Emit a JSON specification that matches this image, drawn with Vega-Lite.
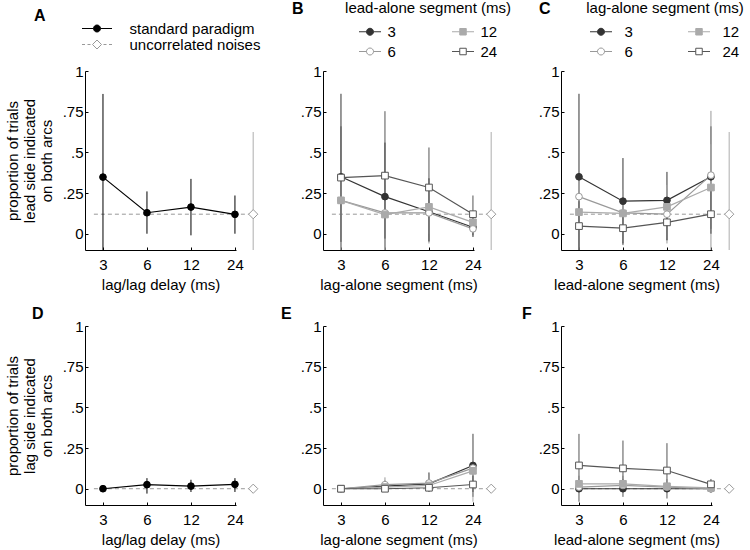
{
  "$schema": "https://vega.github.io/schema/vega-lite/v6.json",
  "padding": {"left": 5, "top": 1, "right": 5, "bottom": 5},
  "datasets": {
    "main": [
      {"panel": "A", "series": "standard paradigm", "x": 3, "y": 0.348, "lo": -0.1, "hi": 0.859},
      {"panel": "A", "series": "standard paradigm", "x": 6, "y": 0.129, "lo": 0, "hi": 0.26},
      {"panel": "A", "series": "standard paradigm", "x": 12, "y": 0.164, "lo": -0.01, "hi": 0.337},
      {"panel": "A", "series": "standard paradigm", "x": 24, "y": 0.119, "lo": 0, "hi": 0.235},

      {"panel": "B", "series": "3", "x": 3, "y": 0.35, "lo": -0.1, "hi": 0.86},
      {"panel": "B", "series": "3", "x": 6, "y": 0.228, "lo": -0.1, "hi": 0.56},
      {"panel": "B", "series": "3", "x": 12, "y": 0.135, "lo": -0.05, "hi": 0.34},
      {"panel": "B", "series": "3", "x": 24, "y": 0.04, "lo": -0.02, "hi": 0.12},
      {"panel": "B", "series": "6", "x": 3, "y": 0.205, "lo": -0.06, "hi": 0.66},
      {"panel": "B", "series": "6", "x": 6, "y": 0.128, "lo": -0.1, "hi": 0.3},
      {"panel": "B", "series": "6", "x": 12, "y": 0.128, "lo": -0.06, "hi": 0.34},
      {"panel": "B", "series": "6", "x": 24, "y": 0.03, "lo": -0.02, "hi": 0.1},
      {"panel": "B", "series": "12", "x": 3, "y": 0.205, "lo": -0.1, "hi": 0.45},
      {"panel": "B", "series": "12", "x": 6, "y": 0.118, "lo": -0.1, "hi": 0.27},
      {"panel": "B", "series": "12", "x": 12, "y": 0.165, "lo": 0, "hi": 0.33},
      {"panel": "B", "series": "12", "x": 24, "y": 0.07, "lo": 0, "hi": 0.14},
      {"panel": "B", "series": "24", "x": 3, "y": 0.345, "lo": -0.05, "hi": 0.66},
      {"panel": "B", "series": "24", "x": 6, "y": 0.357, "lo": -0.03, "hi": 0.753},
      {"panel": "B", "series": "24", "x": 12, "y": 0.284, "lo": -0.045, "hi": 0.53},
      {"panel": "B", "series": "24", "x": 24, "y": 0.12, "lo": -0.01, "hi": 0.235},

      {"panel": "C", "series": "3", "x": 3, "y": 0.35, "lo": -0.1, "hi": 0.86},
      {"panel": "C", "series": "3", "x": 6, "y": 0.2, "lo": -0.06, "hi": 0.465},
      {"panel": "C", "series": "3", "x": 12, "y": 0.205, "lo": -0.04, "hi": 0.38},
      {"panel": "C", "series": "3", "x": 24, "y": 0.35, "lo": 0.03, "hi": 0.66},
      {"panel": "C", "series": "6", "x": 3, "y": 0.228, "lo": -0.1, "hi": 0.56},
      {"panel": "C", "series": "6", "x": 6, "y": 0.128, "lo": -0.03, "hi": 0.26},
      {"panel": "C", "series": "6", "x": 12, "y": 0.12, "lo": -0.06, "hi": 0.28},
      {"panel": "C", "series": "6", "x": 24, "y": 0.36, "lo": -0.1, "hi": 0.755},
      {"panel": "C", "series": "12", "x": 3, "y": 0.133, "lo": -0.1, "hi": 0.35},
      {"panel": "C", "series": "12", "x": 6, "y": 0.125, "lo": -0.05, "hi": 0.27},
      {"panel": "C", "series": "12", "x": 12, "y": 0.165, "lo": -0.03, "hi": 0.3},
      {"panel": "C", "series": "12", "x": 24, "y": 0.284, "lo": 0, "hi": 0.55},
      {"panel": "C", "series": "24", "x": 3, "y": 0.047, "lo": -0.1, "hi": 0.2},
      {"panel": "C", "series": "24", "x": 6, "y": 0.034, "lo": -0.07, "hi": 0.15},
      {"panel": "C", "series": "24", "x": 12, "y": 0.07, "lo": -0.04, "hi": 0.2},
      {"panel": "C", "series": "24", "x": 24, "y": 0.12, "lo": 0, "hi": 0.3},

      {"panel": "D", "series": "standard paradigm", "x": 3, "y": 0, "lo": 0, "hi": 0},
      {"panel": "D", "series": "standard paradigm", "x": 6, "y": 0.025, "lo": -0.03, "hi": 0.065},
      {"panel": "D", "series": "standard paradigm", "x": 12, "y": 0.016, "lo": -0.02, "hi": 0.055},
      {"panel": "D", "series": "standard paradigm", "x": 24, "y": 0.027, "lo": -0.02, "hi": 0.065},

      {"panel": "E", "series": "3", "x": 3, "y": 0, "lo": 0, "hi": 0},
      {"panel": "E", "series": "3", "x": 6, "y": 0.016, "lo": 0, "hi": 0.05},
      {"panel": "E", "series": "3", "x": 12, "y": 0.03, "lo": -0.02, "hi": 0.1},
      {"panel": "E", "series": "3", "x": 24, "y": 0.143, "lo": -0.05, "hi": 0.337},
      {"panel": "E", "series": "6", "x": 3, "y": 0, "lo": 0, "hi": 0},
      {"panel": "E", "series": "6", "x": 6, "y": 0.025, "lo": -0.01, "hi": 0.07},
      {"panel": "E", "series": "6", "x": 12, "y": 0.035, "lo": -0.02, "hi": 0.09},
      {"panel": "E", "series": "6", "x": 24, "y": 0.127, "lo": -0.02, "hi": 0.296},
      {"panel": "E", "series": "12", "x": 3, "y": 0, "lo": 0, "hi": 0},
      {"panel": "E", "series": "12", "x": 6, "y": 0.01, "lo": 0, "hi": 0.04},
      {"panel": "E", "series": "12", "x": 12, "y": 0.02, "lo": 0, "hi": 0.06},
      {"panel": "E", "series": "12", "x": 24, "y": 0.11, "lo": -0.08, "hi": 0.337},
      {"panel": "E", "series": "24", "x": 3, "y": 0, "lo": 0, "hi": 0},
      {"panel": "E", "series": "24", "x": 6, "y": 0, "lo": 0, "hi": 0},
      {"panel": "E", "series": "24", "x": 12, "y": 0.006, "lo": 0, "hi": 0.02},
      {"panel": "E", "series": "24", "x": 24, "y": 0.026, "lo": -0.02, "hi": 0.08},

      {"panel": "F", "series": "3", "x": 3, "y": 0, "lo": 0, "hi": 0},
      {"panel": "F", "series": "3", "x": 6, "y": 0, "lo": 0, "hi": 0},
      {"panel": "F", "series": "3", "x": 12, "y": 0, "lo": 0, "hi": 0},
      {"panel": "F", "series": "3", "x": 24, "y": 0, "lo": 0, "hi": 0},
      {"panel": "F", "series": "6", "x": 3, "y": 0.01, "lo": -0.02, "hi": 0.05},
      {"panel": "F", "series": "6", "x": 6, "y": 0.02, "lo": -0.01, "hi": 0.06},
      {"panel": "F", "series": "6", "x": 12, "y": 0.01, "lo": -0.01, "hi": 0.04},
      {"panel": "F", "series": "6", "x": 24, "y": 0, "lo": 0, "hi": 0},
      {"panel": "F", "series": "12", "x": 3, "y": 0.03, "lo": -0.02, "hi": 0.08},
      {"panel": "F", "series": "12", "x": 6, "y": 0.03, "lo": -0.01, "hi": 0.08},
      {"panel": "F", "series": "12", "x": 12, "y": 0.015, "lo": -0.02, "hi": 0.06},
      {"panel": "F", "series": "12", "x": 24, "y": 0.005, "lo": 0, "hi": 0.02},
      {"panel": "F", "series": "24", "x": 3, "y": 0.143, "lo": -0.08, "hi": 0.337},
      {"panel": "F", "series": "24", "x": 6, "y": 0.125, "lo": -0.05, "hi": 0.296},
      {"panel": "F", "series": "24", "x": 12, "y": 0.112, "lo": -0.06, "hi": 0.28},
      {"panel": "F", "series": "24", "x": 24, "y": 0.027, "lo": -0.01, "hi": 0.06}
    ],
    "noise": [
      {"panel": "A", "series": "uncorrelated noises", "x": 32, "y": 0.12, "lo": -0.1, "hi": 0.625},
      {"panel": "B", "series": "uncorrelated noises", "x": 32, "y": 0.12, "lo": -0.1, "hi": 0.625},
      {"panel": "C", "series": "uncorrelated noises", "x": 32, "y": 0.12, "lo": -0.1, "hi": 0.625},
      {"panel": "D", "series": "uncorrelated noises", "x": 32, "y": 0},
      {"panel": "E", "series": "uncorrelated noises", "x": 32, "y": 0},
      {"panel": "F", "series": "uncorrelated noises", "x": 32, "y": 0}
    ]
  },
  "config": {
    "font": "Liberation Sans",
    "view": {"stroke": null},
    "axis": {
      "grid": false, "domainColor": "#000", "tickColor": "#000", "labelColor": "#000", "titleColor": "#000",
      "labelFontSize": 15, "titleFontSize": 15, "titleFontWeight": "normal", "tickSize": -3,
      "labelFont": "Liberation Sans", "titleFont": "Liberation Sans"
    },
    "axisX": {"labelPadding": 10, "titlePadding": 5},
    "axisY": {"labelPadding": 5, "titlePadding": 8, "titleLineHeight": 17},
    "legend": {
      "labelFont": "Liberation Sans", "titleFont": "Liberation Sans", "labelFontSize": 15, "titleFontSize": 15,
      "titleFontWeight": "normal", "labelColor": "#000", "titleColor": "#000", "symbolStrokeWidth": 1, "padding": 0, "labelLimit": 300
    },
    "title": {"fontSize": 16, "fontWeight": "bold", "anchor": "start", "frame": "group", "color": "#000", "font": "Liberation Sans"}
  },
  "columns": 3,
  "spacing": {"row": 76, "column": 87},
  "bounds": "flush",
  "resolve": {"scale": {"stroke": "independent", "fill": "independent", "shape": "independent"}},
  "concat": [
    {
      "width": 151, "height": 179,
      "title": {"text": "A", "dx": -51, "dy": 7},
      "encoding": {
        "x": {"field": "x", "type": "quantitative", "scale": {"type": "log", "base": 2, "domain": [2.26, 24.4], "nice": false}, "axis": {"values": [3, 6, 12, 24], "format": "d", "title": "lag/lag delay (ms)"}},
        "y": {"field": "y", "type": "quantitative", "scale": {"domain": [-0.1, 1], "nice": false, "zero": false}, "axis": {"values": [0, 0.25, 0.5, 0.75, 1], "labelExpr": "datum.value == 0 ? '0' : datum.value == 1 ? '1' : replace(format(datum.value, '.2~f'), '0.', '.')", "title": ["proportion of trials", "lead side indicated", "on both arcs"]}}
      },
      "layer": [
        {"data": {"name": "noise"}, "transform": [{"filter": "datum.panel == 'A'"}], "mark": {"type": "rule", "stroke": "#999", "strokeWidth": 1, "strokeDash": [4, 3]}, "encoding": {"x": {"datum": 2.6, "type": "quantitative"}, "x2": {"datum": 32}}},
        {"data": {"name": "noise"}, "transform": [{"filter": "datum.panel == 'A'"}], "mark": {"type": "rule", "stroke": "#bbb", "strokeWidth": 1.2}, "encoding": {"y": {"field": "lo", "type": "quantitative"}, "y2": {"field": "hi"}}},
        {"data": {"name": "main"}, "transform": [{"filter": "datum.panel == 'A'"}], "mark": {"type": "rule", "stroke": "#000", "strokeWidth": 1}, "encoding": {"y": {"field": "lo", "type": "quantitative"}, "y2": {"field": "hi"}}},
        {"data": {"name": "main"}, "transform": [{"filter": "datum.panel == 'A'"}], "mark": {"type": "line", "stroke": "#000", "strokeWidth": 1.2}, "encoding": {}},
        {"data": {"name": "main"}, "transform": [{"filter": "false"}], "mark": {"type": "point", "filled": true, "size": 45, "strokeWidth": 1, "opacity": 1},
          "encoding": {
            "stroke": {"field": "series", "type": "nominal", "scale": {"domain": ["standard paradigm", "uncorrelated noises"], "range": ["#000", "#999"]},
              "legend": {"title": null, "orient": "none", "legendX": -3, "legendY": -50, "symbolSize": 100, "symbolOffset": 7.5, "labelOffset": 25, "rowPadding": 0}},
            "fill": {"field": "series", "type": "nominal", "scale": {"domain": ["standard paradigm", "uncorrelated noises"], "range": ["#000", "#fff"]}},
            "shape": {"field": "series", "type": "nominal", "scale": {"domain": ["standard paradigm", "uncorrelated noises"], "range": ["M-3,0H-0.7M0.7,0H3M-0.7,0A0.7,0.7,0,1,1,0.7,0A0.7,0.7,0,1,1,-0.7,0Z", "M-3,0H-2.4M-1.9,0H-1.3M1.3,0H1.9M2.4,0H3M0,-0.9L0.9,0L0,0.9L-0.9,0Z"]}}
          }},
        {"data": {"name": "main"}, "transform": [{"filter": "datum.panel == 'A'"}], "mark": {"type": "point", "shape": "circle", "filled": true, "size": 45, "strokeWidth": 1, "opacity": 1},
          "encoding": {
            "stroke": {"field": "series", "type": "nominal"},
            "fill": {"field": "series", "type": "nominal"}
          }},
        {"data": {"name": "noise"}, "transform": [{"filter": "datum.panel == 'A'"}], "mark": {"type": "point", "shape": "diamond", "filled": true, "size": 85, "strokeWidth": 1, "opacity": 1},
          "encoding": {
            "stroke": {"field": "series", "type": "nominal"},
            "fill": {"field": "series", "type": "nominal"}
          }}
      ]
    },
    {
      "width": 151, "height": 179,
      "title": {"text": "B", "dx": -31, "dy": 20},
      "encoding": {
        "x": {"field": "x", "type": "quantitative", "scale": {"type": "log", "base": 2, "domain": [2.26, 24.4], "nice": false}, "axis": {"values": [3, 6, 12, 24], "format": "d", "title": "lag-alone segment (ms)"}},
        "y": {"field": "y", "type": "quantitative", "scale": {"domain": [-0.1, 1], "nice": false, "zero": false}, "axis": {"values": [0, 0.25, 0.5, 0.75, 1], "labelExpr": "datum.value == 0 ? '0' : datum.value == 1 ? '1' : replace(format(datum.value, '.2~f'), '0.', '.')", "title": null}}
      },
      "layer": [
        {"data": {"name": "noise"}, "transform": [{"filter": "datum.panel == 'B'"}], "mark": {"type": "rule", "stroke": "#999", "strokeWidth": 1, "strokeDash": [4, 3]}, "encoding": {"x": {"datum": 2.6, "type": "quantitative"}, "x2": {"datum": 32}}},
        {"data": {"name": "noise"}, "transform": [{"filter": "datum.panel == 'B'"}], "mark": {"type": "rule", "stroke": "#bbb", "strokeWidth": 1.2}, "encoding": {"y": {"field": "lo", "type": "quantitative"}, "y2": {"field": "hi"}}},
        {"data": {"name": "main"}, "transform": [{"filter": "datum.panel == 'B'"}], "mark": {"type": "rule", "strokeWidth": 1}, "encoding": {"y": {"field": "lo", "type": "quantitative"}, "y2": {"field": "hi"}, "color": {"field": "series", "type": "nominal", "scale": {"domain": ["3", "6", "12", "24"], "range": ["#333", "#999", "#aaa", "#555"]}, "legend": null}}},
        {"data": {"name": "main"}, "transform": [{"filter": "datum.panel == 'B'"}], "mark": {"type": "line", "strokeWidth": 1.2}, "encoding": {"color": {"field": "series", "type": "nominal", "scale": {"domain": ["3", "6", "12", "24"], "range": ["#333", "#999", "#aaa", "#555"]}, "legend": null}}},
        {"data": {"name": "main"}, "transform": [{"filter": "false"}], "mark": {"type": "point", "filled": true, "size": 45, "strokeWidth": 1, "opacity": 1},
          "encoding": {
            "stroke": {"field": "series", "type": "nominal", "scale": {"domain": ["3", "6", "12", "24"], "range": ["#333", "#999", "#aaa", "#555"]},
              "legend": {"title": "lead-alone segment (ms)", "titleAnchor": "middle", "orient": "none", "legendX": 22, "legendY": -70, "columns": 2, "columnPadding": 54, "rowPadding": 4, "titlePadding": 8, "symbolSize": 100, "symbolOffset": 3.5, "labelOffset": 10}},
            "fill": {"field": "series", "type": "nominal", "scale": {"domain": ["3", "6", "12", "24"], "range": ["#333", "#fff", "#aaa", "#fff"]}},
            "shape": {"field": "series", "type": "nominal", "scale": {"domain": ["3", "6", "12", "24"], "range": ["M-2.2,0H-0.7M0.7,0H2.2M-0.7,0A0.7,0.7,0,1,1,0.7,0A0.7,0.7,0,1,1,-0.7,0Z", "M-2.2,0H-0.7M0.7,0H2.2M-0.7,0A0.7,0.7,0,1,1,0.7,0A0.7,0.7,0,1,1,-0.7,0Z", "M-2.2,0H-0.65M0.65,0H2.2M-0.65,-0.65H0.65V0.65H-0.65Z", "M-2.2,0H-0.65M0.65,0H2.2M-0.65,-0.65H0.65V0.65H-0.65Z"]}}
          }},
        {"data": {"name": "main"}, "transform": [{"filter": "datum.panel == 'B' && (datum.series == '3' || datum.series == '6')"}], "mark": {"type": "point", "shape": "circle", "filled": true, "size": 45, "strokeWidth": 1, "opacity": 1},
          "encoding": {
            "stroke": {"field": "series", "type": "nominal"},
            "fill": {"field": "series", "type": "nominal"}
          }},
        {"data": {"name": "main"}, "transform": [{"filter": "datum.panel == 'B' && (datum.series == '12' || datum.series == '24')"}], "mark": {"type": "point", "shape": "square", "filled": true, "size": 45, "strokeWidth": 1, "opacity": 1},
          "encoding": {
            "stroke": {"field": "series", "type": "nominal"},
            "fill": {"field": "series", "type": "nominal"}
          }},
        {"data": {"name": "noise"}, "transform": [{"filter": "datum.panel == 'B'"}], "mark": {"type": "point", "shape": "diamond", "filled": true, "fill": "#fff", "stroke": "#999", "size": 85, "strokeWidth": 1, "opacity": 1}, "encoding": {}}
      ]
    },
    {
      "width": 151, "height": 179,
      "title": {"text": "C", "dx": -22, "dy": 20},
      "encoding": {
        "x": {"field": "x", "type": "quantitative", "scale": {"type": "log", "base": 2, "domain": [2.26, 24.4], "nice": false}, "axis": {"values": [3, 6, 12, 24], "format": "d", "title": "lead-alone segment (ms)"}},
        "y": {"field": "y", "type": "quantitative", "scale": {"domain": [-0.1, 1], "nice": false, "zero": false}, "axis": {"values": [0, 0.25, 0.5, 0.75, 1], "labelExpr": "datum.value == 0 ? '0' : datum.value == 1 ? '1' : replace(format(datum.value, '.2~f'), '0.', '.')", "title": null}}
      },
      "layer": [
        {"data": {"name": "noise"}, "transform": [{"filter": "datum.panel == 'C'"}], "mark": {"type": "rule", "stroke": "#999", "strokeWidth": 1, "strokeDash": [4, 3]}, "encoding": {"x": {"datum": 2.6, "type": "quantitative"}, "x2": {"datum": 32}}},
        {"data": {"name": "noise"}, "transform": [{"filter": "datum.panel == 'C'"}], "mark": {"type": "rule", "stroke": "#bbb", "strokeWidth": 1.2}, "encoding": {"y": {"field": "lo", "type": "quantitative"}, "y2": {"field": "hi"}}},
        {"data": {"name": "main"}, "transform": [{"filter": "datum.panel == 'C'"}], "mark": {"type": "rule", "strokeWidth": 1}, "encoding": {"y": {"field": "lo", "type": "quantitative"}, "y2": {"field": "hi"}, "color": {"field": "series", "type": "nominal", "scale": {"domain": ["3", "6", "12", "24"], "range": ["#333", "#999", "#aaa", "#555"]}, "legend": null}}},
        {"data": {"name": "main"}, "transform": [{"filter": "datum.panel == 'C'"}], "mark": {"type": "line", "strokeWidth": 1.2}, "encoding": {"color": {"field": "series", "type": "nominal", "scale": {"domain": ["3", "6", "12", "24"], "range": ["#333", "#999", "#aaa", "#555"]}, "legend": null}}},
        {"data": {"name": "main"}, "transform": [{"filter": "false"}], "mark": {"type": "point", "filled": true, "size": 45, "strokeWidth": 1, "opacity": 1},
          "encoding": {
            "stroke": {"field": "series", "type": "nominal", "scale": {"domain": ["3", "6", "12", "24"], "range": ["#333", "#999", "#aaa", "#555"]},
              "legend": {"title": "lag-alone segment (ms)", "titleAnchor": "middle", "orient": "none", "legendX": 25, "legendY": -70, "columns": 2, "columnPadding": 53, "rowPadding": 4, "titlePadding": 8, "symbolSize": 100, "symbolOffset": 3.5, "labelOffset": 16}},
            "fill": {"field": "series", "type": "nominal", "scale": {"domain": ["3", "6", "12", "24"], "range": ["#333", "#fff", "#aaa", "#fff"]}},
            "shape": {"field": "series", "type": "nominal", "scale": {"domain": ["3", "6", "12", "24"], "range": ["M-2.2,0H-0.7M0.7,0H2.2M-0.7,0A0.7,0.7,0,1,1,0.7,0A0.7,0.7,0,1,1,-0.7,0Z", "M-2.2,0H-0.7M0.7,0H2.2M-0.7,0A0.7,0.7,0,1,1,0.7,0A0.7,0.7,0,1,1,-0.7,0Z", "M-2.2,0H-0.65M0.65,0H2.2M-0.65,-0.65H0.65V0.65H-0.65Z", "M-2.2,0H-0.65M0.65,0H2.2M-0.65,-0.65H0.65V0.65H-0.65Z"]}}
          }},
        {"data": {"name": "main"}, "transform": [{"filter": "datum.panel == 'C' && (datum.series == '3' || datum.series == '6')"}], "mark": {"type": "point", "shape": "circle", "filled": true, "size": 45, "strokeWidth": 1, "opacity": 1},
          "encoding": {
            "stroke": {"field": "series", "type": "nominal"},
            "fill": {"field": "series", "type": "nominal"}
          }},
        {"data": {"name": "main"}, "transform": [{"filter": "datum.panel == 'C' && (datum.series == '12' || datum.series == '24')"}], "mark": {"type": "point", "shape": "square", "filled": true, "size": 45, "strokeWidth": 1, "opacity": 1},
          "encoding": {
            "stroke": {"field": "series", "type": "nominal"},
            "fill": {"field": "series", "type": "nominal"}
          }},
        {"data": {"name": "noise"}, "transform": [{"filter": "datum.panel == 'C'"}], "mark": {"type": "point", "shape": "diamond", "filled": true, "fill": "#fff", "stroke": "#999", "size": 85, "strokeWidth": 1, "opacity": 1}, "encoding": {}}
      ]
    },
    {
      "width": 151, "height": 179,
      "title": {"text": "D", "dx": -53, "dy": 7},
      "encoding": {
        "x": {"field": "x", "type": "quantitative", "scale": {"type": "log", "base": 2, "domain": [2.26, 24.4], "nice": false}, "axis": {"values": [3, 6, 12, 24], "format": "d", "title": "lag/lag delay (ms)"}},
        "y": {"field": "y", "type": "quantitative", "scale": {"domain": [-0.1, 1], "nice": false, "zero": false}, "axis": {"values": [0, 0.25, 0.5, 0.75, 1], "labelExpr": "datum.value == 0 ? '0' : datum.value == 1 ? '1' : replace(format(datum.value, '.2~f'), '0.', '.')", "title": ["proportion of trials", "lag side indicated", "on both arcs"]}}
      },
      "layer": [
        {"data": {"name": "noise"}, "transform": [{"filter": "datum.panel == 'D'"}], "mark": {"type": "rule", "stroke": "#999", "strokeWidth": 1, "strokeDash": [4, 3]}, "encoding": {"x": {"datum": 2.6, "type": "quantitative"}, "x2": {"datum": 32}}},
        {"data": {"name": "main"}, "transform": [{"filter": "datum.panel == 'D'"}], "mark": {"type": "rule", "stroke": "#000", "strokeWidth": 1}, "encoding": {"y": {"field": "lo", "type": "quantitative"}, "y2": {"field": "hi"}}},
        {"data": {"name": "main"}, "transform": [{"filter": "datum.panel == 'D'"}], "mark": {"type": "line", "stroke": "#000", "strokeWidth": 1.2}, "encoding": {}},
        {"data": {"name": "main"}, "transform": [{"filter": "datum.panel == 'D'"}], "mark": {"type": "point", "shape": "circle", "filled": true, "fill": "#000", "stroke": "#000", "size": 45, "strokeWidth": 1, "opacity": 1}, "encoding": {}},
        {"data": {"name": "noise"}, "transform": [{"filter": "datum.panel == 'D'"}], "mark": {"type": "point", "shape": "diamond", "filled": true, "fill": "#fff", "stroke": "#999", "size": 85, "strokeWidth": 1, "opacity": 1}, "encoding": {}}
      ]
    },
    {
      "width": 151, "height": 179,
      "title": {"text": "E", "dx": -42, "dy": 7},
      "encoding": {
        "x": {"field": "x", "type": "quantitative", "scale": {"type": "log", "base": 2, "domain": [2.26, 24.4], "nice": false}, "axis": {"values": [3, 6, 12, 24], "format": "d", "title": "lag-alone segment (ms)"}},
        "y": {"field": "y", "type": "quantitative", "scale": {"domain": [-0.1, 1], "nice": false, "zero": false}, "axis": {"values": [0, 0.25, 0.5, 0.75, 1], "labelExpr": "datum.value == 0 ? '0' : datum.value == 1 ? '1' : replace(format(datum.value, '.2~f'), '0.', '.')", "title": null}}
      },
      "layer": [
        {"data": {"name": "noise"}, "transform": [{"filter": "datum.panel == 'E'"}], "mark": {"type": "rule", "stroke": "#999", "strokeWidth": 1, "strokeDash": [4, 3]}, "encoding": {"x": {"datum": 2.6, "type": "quantitative"}, "x2": {"datum": 32}}},
        {"data": {"name": "main"}, "transform": [{"filter": "datum.panel == 'E'"}], "mark": {"type": "rule", "strokeWidth": 1}, "encoding": {"y": {"field": "lo", "type": "quantitative"}, "y2": {"field": "hi"}, "color": {"field": "series", "type": "nominal", "scale": {"domain": ["3", "6", "12", "24"], "range": ["#333", "#999", "#aaa", "#555"]}, "legend": null}}},
        {"data": {"name": "main"}, "transform": [{"filter": "datum.panel == 'E'"}], "mark": {"type": "line", "strokeWidth": 1.2}, "encoding": {"color": {"field": "series", "type": "nominal", "scale": {"domain": ["3", "6", "12", "24"], "range": ["#333", "#999", "#aaa", "#555"]}, "legend": null}}},
        {"data": {"name": "main"}, "transform": [{"filter": "datum.panel == 'E'"}], "mark": {"type": "point", "filled": true, "size": 45, "strokeWidth": 1, "opacity": 1},
          "encoding": {
            "stroke": {"field": "series", "type": "nominal", "scale": {"domain": ["3", "6", "12", "24"], "range": ["#333", "#999", "#aaa", "#555"]}, "legend": null},
            "fill": {"field": "series", "type": "nominal", "scale": {"domain": ["3", "6", "12", "24"], "range": ["#333", "#fff", "#aaa", "#fff"]}, "legend": null},
            "shape": {"field": "series", "type": "nominal", "scale": {"domain": ["3", "6", "12", "24"], "range": ["circle", "circle", "square", "square"]}, "legend": null}
          }},
        {"data": {"name": "noise"}, "transform": [{"filter": "datum.panel == 'E'"}], "mark": {"type": "point", "shape": "diamond", "filled": true, "fill": "#fff", "stroke": "#999", "size": 85, "strokeWidth": 1, "opacity": 1}, "encoding": {}}
      ]
    },
    {
      "width": 151, "height": 179,
      "title": {"text": "F", "dx": -39, "dy": 7},
      "encoding": {
        "x": {"field": "x", "type": "quantitative", "scale": {"type": "log", "base": 2, "domain": [2.26, 24.4], "nice": false}, "axis": {"values": [3, 6, 12, 24], "format": "d", "title": "lead-alone segment (ms)"}},
        "y": {"field": "y", "type": "quantitative", "scale": {"domain": [-0.1, 1], "nice": false, "zero": false}, "axis": {"values": [0, 0.25, 0.5, 0.75, 1], "labelExpr": "datum.value == 0 ? '0' : datum.value == 1 ? '1' : replace(format(datum.value, '.2~f'), '0.', '.')", "title": null}}
      },
      "layer": [
        {"data": {"name": "noise"}, "transform": [{"filter": "datum.panel == 'F'"}], "mark": {"type": "rule", "stroke": "#999", "strokeWidth": 1, "strokeDash": [4, 3]}, "encoding": {"x": {"datum": 2.6, "type": "quantitative"}, "x2": {"datum": 32}}},
        {"data": {"name": "main"}, "transform": [{"filter": "datum.panel == 'F'"}], "mark": {"type": "rule", "strokeWidth": 1}, "encoding": {"y": {"field": "lo", "type": "quantitative"}, "y2": {"field": "hi"}, "color": {"field": "series", "type": "nominal", "scale": {"domain": ["3", "6", "12", "24"], "range": ["#333", "#999", "#aaa", "#555"]}, "legend": null}}},
        {"data": {"name": "main"}, "transform": [{"filter": "datum.panel == 'F'"}], "mark": {"type": "line", "strokeWidth": 1.2}, "encoding": {"color": {"field": "series", "type": "nominal", "scale": {"domain": ["3", "6", "12", "24"], "range": ["#333", "#999", "#aaa", "#555"]}, "legend": null}}},
        {"data": {"name": "main"}, "transform": [{"filter": "datum.panel == 'F'"}], "mark": {"type": "point", "filled": true, "size": 45, "strokeWidth": 1, "opacity": 1},
          "encoding": {
            "stroke": {"field": "series", "type": "nominal", "scale": {"domain": ["3", "6", "12", "24"], "range": ["#333", "#999", "#aaa", "#555"]}, "legend": null},
            "fill": {"field": "series", "type": "nominal", "scale": {"domain": ["3", "6", "12", "24"], "range": ["#333", "#fff", "#aaa", "#fff"]}, "legend": null},
            "shape": {"field": "series", "type": "nominal", "scale": {"domain": ["3", "6", "12", "24"], "range": ["circle", "circle", "square", "square"]}, "legend": null}
          }},
        {"data": {"name": "noise"}, "transform": [{"filter": "datum.panel == 'F'"}], "mark": {"type": "point", "shape": "diamond", "filled": true, "fill": "#fff", "stroke": "#999", "size": 85, "strokeWidth": 1, "opacity": 1}, "encoding": {}}
      ]
    }
  ]
}
